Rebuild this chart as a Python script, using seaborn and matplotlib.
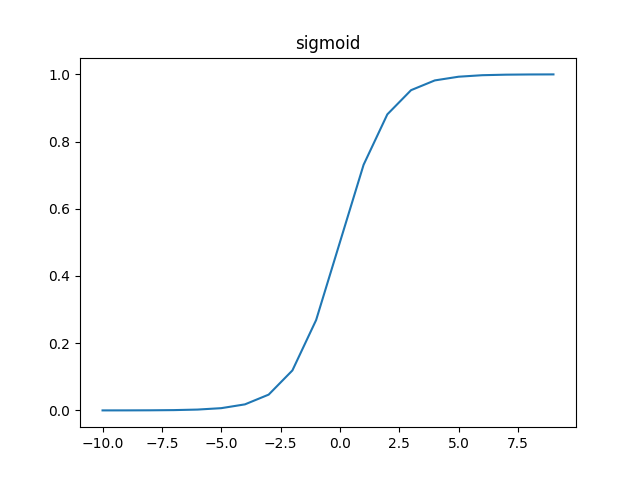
import matplotlib
matplotlib.use("Agg")
import matplotlib.pyplot as plt
import seaborn as sns

# Values
x_values = [-10, -9, -8, -7, -6, -5, -4, -3, -2, -1, 0, 1, 2, 3, 4, 5, 6, 7, 8, 9]
y_values = [0.00005, 0.00012, 0.00034, 0.00091, 0.0025, 0.0067, 0.018, 0.047,
            0.119, 0.269, 0.5, 0.731, 0.881, 0.953, 0.982, 0.993, 0.9975,
            0.9991, 0.9997, 0.9999]

fig, ax = plt.subplots(figsize=(6.4, 4.8), dpi=100)
sns.lineplot(x=x_values, y=y_values, ax=ax, color="#1f77b4")
ax.set_title("sigmoid")

plt.savefig("out.png", dpi=100)
plt.close()
